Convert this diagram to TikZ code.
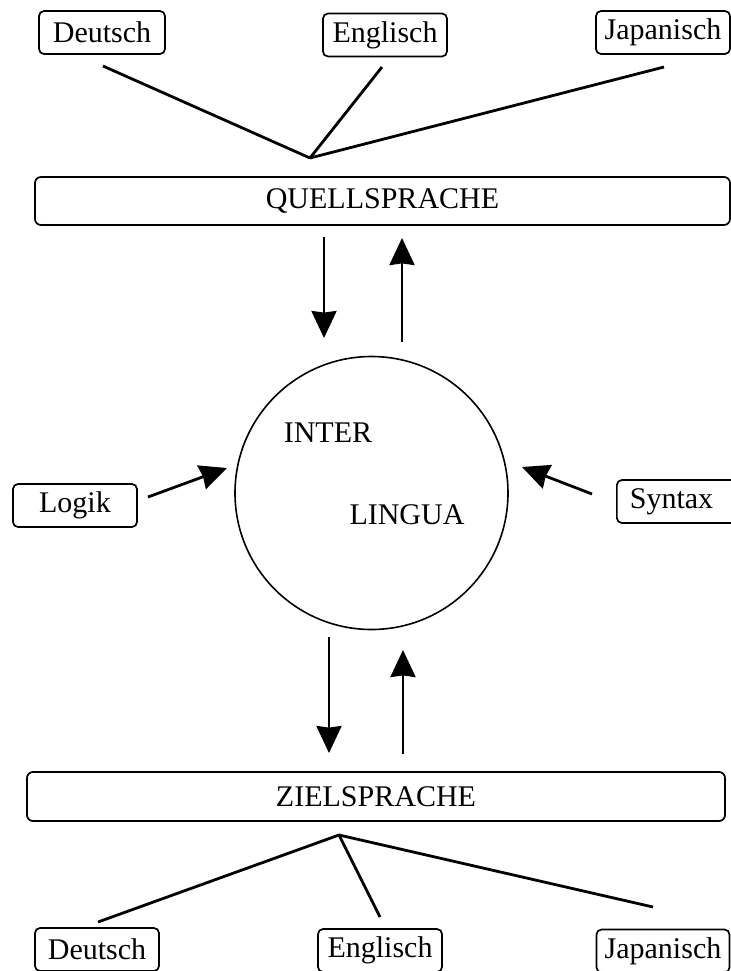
\documentclass[tikz,border=0pt]{standalone}
\usepackage{fontspec}
\setmainfont{Liberation Serif}
\usetikzlibrary{arrows.meta}

\tikzset{
  every picture/.style={line width=1.4pt},
  lang/.style={draw,rounded corners=2.5pt,line width=0.85pt,inner sep=0pt,minimum height=21.5pt},
  level/.style={draw,rounded corners=3pt,line width=0.85pt,inner sep=0pt},
  arr/.style={-{Stealth[length=13.5pt,width=12.5pt,inset=0.8pt]}},
}

\begin{document}
\begin{tikzpicture}[x=0.5pt,y=0.5pt,yscale=-1,xscale=1,font=\fontsize{15}{18}\selectfont]
  \useasboundingbox (0,0) rectangle (731,971);

  % Source languages
  \node[lang,minimum width=63pt] (deTop) at (102,32.5) {Deutsch};
  \node[lang,minimum width=62pt] (enTop) at (385,35) {Englisch};
  \node[lang,minimum width=67pt] (jaTop) at (663,32.5) {Japanisch};
  \coordinate (deTopEnd) at (103,66);
  \coordinate (enTopEnd) at (382,67);
  \coordinate (jaTopEnd) at (664,67);
  \coordinate (quellFan) at (310,158);

  \node[level,minimum width=347.5pt,minimum height=24pt] (quell) at (382.5,201) {QUELLSPRACHE};

  \draw (deTopEnd) -- (quellFan);
  \draw (enTopEnd) -- (quellFan);
  \draw (jaTopEnd) -- (quellFan);

  % Interlingua
  \node[draw,circle,line width=0.8pt,minimum size=136.5pt] (inter) at (371.5,493) {};
  \node (interTxt) at (328,433) {INTER};
  \node (linguaTxt) at (407,515) {LINGUA};

  \coordinate (qDownA) at (324,237);
  \coordinate (qDownB) at (324,338);
  \coordinate (qUpA) at (402,342);
  \coordinate (qUpB) at (402,238);
  \draw[arr] (qDownA) -- (qDownB);
  \draw[arr] (qUpA) -- (qUpB);

  % Logik / Syntax
  \node[lang,minimum width=62pt] (logik) at (75,505.5) {Logik};
  \node[lang,anchor=west,text width=50pt,align=left,inner xsep=6.5pt] (syntax) at (616,501.5) {Syntax};
  \coordinate (logikEnd) at (148,497);
  \coordinate (logikTip) at (227,468);
  \coordinate (syntaxEnd) at (592,494);
  \coordinate (syntaxTip) at (522,467);
  \draw[arr] (logikEnd) -- (logikTip);
  \draw[arr] (syntaxEnd) -- (syntaxTip);

  \coordinate (zDownA) at (329,637);
  \coordinate (zDownB) at (329,753);
  \coordinate (zUpA) at (403,754);
  \coordinate (zUpB) at (403,650);
  \draw[arr] (zDownA) -- (zDownB);
  \draw[arr] (zUpA) -- (zUpB);

  % Target languages
  \node[level,minimum width=349pt,minimum height=24.5pt] (ziel) at (376,796.5) {ZIELSPRACHE};
  \coordinate (zielFan) at (339,835);

  \node[lang,minimum width=62pt] (deBot) at (97,949.5) {Deutsch};
  \node[lang,minimum width=62pt] (enBot) at (380,950.5) {Englisch};
  \node[lang,minimum width=66.5pt] (jaBot) at (663,951) {Japanisch};
  \coordinate (deBotEnd) at (98,922);
  \coordinate (enBotEnd) at (380,917);
  \coordinate (jaBotEnd) at (653,907);

  \draw (zielFan) -- (deBotEnd);
  \draw (zielFan) -- (enBotEnd);
  \draw (zielFan) -- (jaBotEnd);
\end{tikzpicture}
\end{document}
